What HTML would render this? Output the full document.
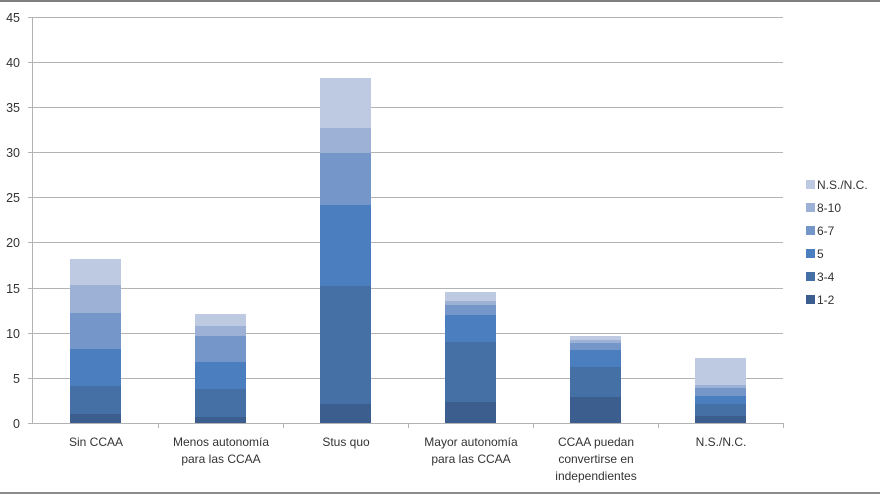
<!DOCTYPE html>
<html><head><meta charset="utf-8"><style>
html,body{margin:0;padding:0;background:#fff;}
svg{display:block;font-family:"Liberation Sans","DejaVu Sans",sans-serif;}
</style></head><body>
<svg width="880" height="495" viewBox="0 0 880 495" xmlns="http://www.w3.org/2000/svg">
<rect x="0" y="0" width="880" height="2" fill="#7f7f7f"/>
<rect x="0" y="492" width="880" height="2" fill="#8c8c8c"/>
<g stroke="#b3b3b3" stroke-width="1">
<line x1="28" y1="17.5" x2="783" y2="17.5"/>
<line x1="28" y1="62.5" x2="783" y2="62.5"/>
<line x1="28" y1="107.5" x2="783" y2="107.5"/>
<line x1="28" y1="152.5" x2="783" y2="152.5"/>
<line x1="28" y1="197.5" x2="783" y2="197.5"/>
<line x1="28" y1="242.5" x2="783" y2="242.5"/>
<line x1="28" y1="288.5" x2="783" y2="288.5"/>
<line x1="28" y1="333.5" x2="783" y2="333.5"/>
<line x1="28" y1="378.5" x2="783" y2="378.5"/>
<line x1="28" y1="423.5" x2="783" y2="423.5"/>
<line x1="32.5" y1="17" x2="32.5" y2="424"/>
<line x1="158.5" y1="423" x2="158.5" y2="428"/>
<line x1="283.5" y1="423" x2="283.5" y2="428"/>
<line x1="408.5" y1="423" x2="408.5" y2="428"/>
<line x1="533.5" y1="423" x2="533.5" y2="428"/>
<line x1="658.5" y1="423" x2="658.5" y2="428"/>
<line x1="783.5" y1="423" x2="783.5" y2="428"/>
</g>
<g font-size="12.5" fill="#333" text-anchor="end">
<text x="20" y="22">45</text><text x="20" y="67">40</text><text x="20" y="112">35</text>
<text x="20" y="157">30</text><text x="20" y="202">25</text><text x="20" y="247">20</text>
<text x="20" y="293">15</text><text x="20" y="338">10</text><text x="20" y="383">5</text>
<text x="20" y="428">0</text>
</g>
<!-- bars -->
<g>
<!-- Sin CCAA -->
<rect x="70" y="414" width="51" height="9" fill="#3b5e8e"/>
<rect x="70" y="386" width="51" height="28" fill="#4470a6"/>
<rect x="70" y="349" width="51" height="37" fill="#4a7ebf"/>
<rect x="70" y="313" width="51" height="36" fill="#7596c8"/>
<rect x="70" y="285" width="51" height="28" fill="#9db1d6"/>
<rect x="70" y="259" width="51" height="26" fill="#bdcae2"/>
<!-- Menos -->
<rect x="195" y="417" width="51" height="6" fill="#3b5e8e"/>
<rect x="195" y="389" width="51" height="28" fill="#4470a6"/>
<rect x="195" y="362" width="51" height="27" fill="#4a7ebf"/>
<rect x="195" y="336" width="51" height="26" fill="#7596c8"/>
<rect x="195" y="326" width="51" height="10" fill="#9db1d6"/>
<rect x="195" y="314" width="51" height="12" fill="#bdcae2"/>
<!-- Stus quo -->
<rect x="320" y="404" width="51" height="19" fill="#3b5e8e"/>
<rect x="320" y="286" width="51" height="118" fill="#4470a6"/>
<rect x="320" y="205" width="51" height="81" fill="#4a7ebf"/>
<rect x="320" y="153" width="51" height="52" fill="#7596c8"/>
<rect x="320" y="128" width="51" height="25" fill="#9db1d6"/>
<rect x="320" y="78" width="51" height="50" fill="#bdcae2"/>
<!-- Mayor -->
<rect x="445" y="402" width="51" height="21" fill="#3b5e8e"/>
<rect x="445" y="342" width="51" height="60" fill="#4470a6"/>
<rect x="445" y="315" width="51" height="27" fill="#4a7ebf"/>
<rect x="445" y="305" width="51" height="10" fill="#7596c8"/>
<rect x="445" y="301" width="51" height="4" fill="#9db1d6"/>
<rect x="445" y="292" width="51" height="9" fill="#bdcae2"/>
<!-- CCAA puedan -->
<rect x="570" y="397" width="51" height="26" fill="#3b5e8e"/>
<rect x="570" y="367" width="51" height="30" fill="#4470a6"/>
<rect x="570" y="350" width="51" height="17" fill="#4a7ebf"/>
<rect x="570" y="343" width="51" height="7" fill="#7596c8"/>
<rect x="570" y="340" width="51" height="3" fill="#9db1d6"/>
<rect x="570" y="336" width="51" height="4" fill="#bdcae2"/>
<!-- NS -->
<rect x="695" y="416" width="51" height="7" fill="#3b5e8e"/>
<rect x="695" y="404" width="51" height="12" fill="#4470a6"/>
<rect x="695" y="396" width="51" height="8" fill="#4a7ebf"/>
<rect x="695" y="388" width="51" height="8" fill="#7596c8"/>
<rect x="695" y="385" width="51" height="3" fill="#9db1d6"/>
<rect x="695" y="358" width="51" height="27" fill="#bdcae2"/>
</g>
<g font-size="12" fill="#333" text-anchor="middle">
<text x="96" y="446">Sin CCAA</text>
<text x="221" y="446">Menos autonomía</text><text x="221" y="463">para las CCAA</text>
<text x="346" y="446">Stus quo</text>
<text x="471" y="446">Mayor autonomía</text><text x="471" y="463">para las CCAA</text>
<text x="596" y="446">CCAA puedan</text><text x="596" y="463">convertirse en</text><text x="596" y="480">independientes</text>
<text x="721" y="446">N.S./N.C.</text>
</g>
<g font-size="12" fill="#333">
<rect x="806" y="180" width="9" height="9" fill="#bdcae2"/><text x="817" y="189">N.S./N.C.</text>
<rect x="806" y="203" width="9" height="9" fill="#9db1d6"/><text x="817" y="212">8-10</text>
<rect x="806" y="226" width="9" height="9" fill="#7596c8"/><text x="817" y="235">6-7</text>
<rect x="806" y="249" width="9" height="9" fill="#4a7ebf"/><text x="817" y="258">5</text>
<rect x="806" y="272" width="9" height="9" fill="#4470a6"/><text x="817" y="281">3-4</text>
<rect x="806" y="295" width="9" height="9" fill="#3b5e8e"/><text x="817" y="304">1-2</text>
</g>
</svg>
</body></html>
